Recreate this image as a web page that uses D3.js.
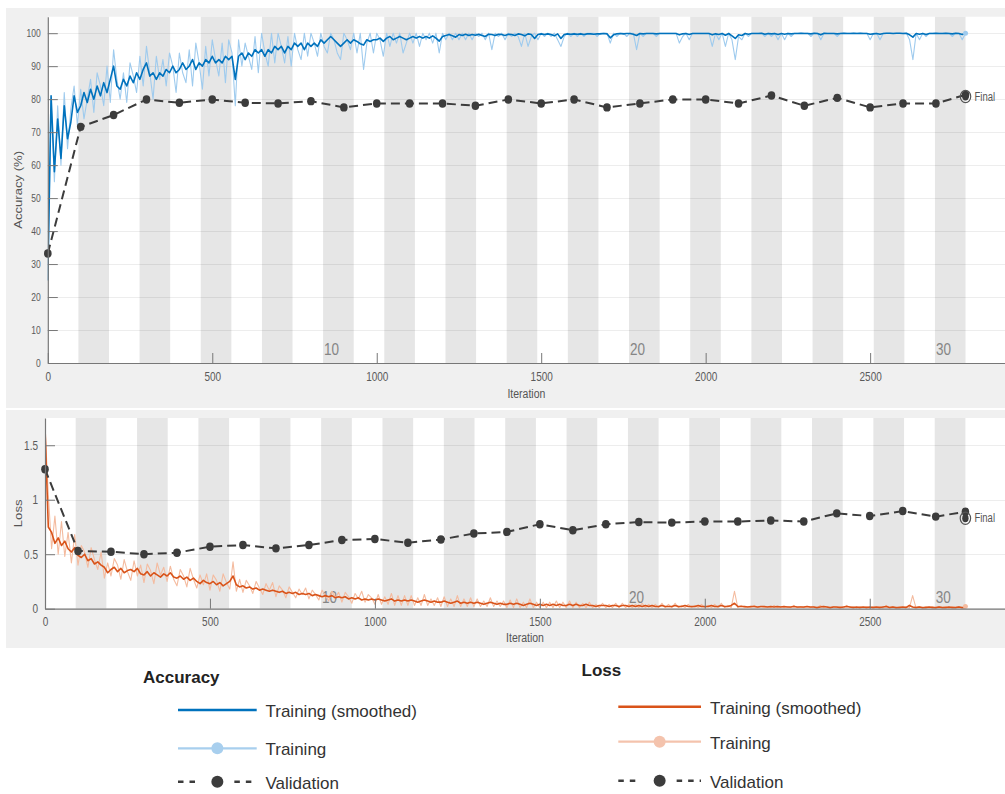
<!DOCTYPE html>
<html>
<head>
<meta charset="utf-8">
<script src="https://cdn.jsdelivr.net/npm/d3@7"></script>
<style>
  html, body { margin: 0; padding: 0; background: #fff; }
  svg { display: block; font-family: "Liberation Sans", Arial, Helvetica, sans-serif; }
</style>
</head>
<body>
<svg id="chart" width="1005" height="794"></svg>
<script>
// ---- training run: 30 epochs, 93 iterations each ----
const numEpochs = 30;
const itersPerEpoch = 93;
const epochLabels = [10, 20, 30];
const trainStep = 10;              // training curves are sampled every 10 iterations (0 ... 2790)

// mini-batch accuracy (%), smoothed
const accSmooth = [
  25, 81, 58, 74, 62, 78, 68, 73, 81, 76,
  78, 82, 79, 83, 80, 84, 81, 85, 82, 86,
  90, 84, 83, 86, 84, 87, 85, 88, 86, 89,
  91, 87, 88, 86, 88, 87, 89, 88, 90, 88,
  89, 91, 89, 90, 92, 89, 91, 90, 92, 91,
  93, 91, 92, 91, 93, 92, 93, 86, 93, 94,
  92, 94, 93, 95, 94, 95, 93, 95, 94, 96,
  95, 96, 94, 96, 95, 97, 96, 97, 95, 97,
  96, 97, 96, 98, 97, 98, 99, 98, 97, 96,
  97, 98, 97, 98, 97.5, 96.8, 96.4, 98, 97.5, 98,
  98, 98.5, 97.5, 98.5, 99, 98, 98.5, 99, 98.5, 98,
  98.5, 99, 98.5, 99, 98.5, 99, 98.5, 99.2, 98.5, 97.6,
  99, 99.3, 99.6, 99.2, 98.8, 99.6, 99.3, 99.7, 99.3, 99.6,
  99.4, 99.7, 99.3, 99, 99.7, 99.6, 99.3, 99.7, 99.6, 99.3,
  99.7, 99.6, 99.3, 99.8, 99.6, 99.2, 99.8, 99.6, 98.4, 99.6,
  99.8, 99.6, 99.8, 99.6, 99.2, 99.8, 98.4, 99.6, 99.8, 99.7,
  99.8, 99.7, 99.8, 99.6, 99.8, 99.8, 99.7, 99.8, 99.8, 99.9,
  99.8, 98.6, 99.5, 99.8, 99.9, 99.8, 99.9, 99.9, 99.7, 99.3,
  99.9, 99.8, 99.9, 99.9, 99.9, 99.8, 99.9, 99.9, 99.9, 99.9,
  99.9, 99.9, 99.5, 99.8, 99.9, 99.6, 99.9, 99.9, 99.9, 99.9,
  99.9, 99.9, 99.5, 99.8, 99.6, 99.9, 99.4, 99.9, 99.2, 98.4,
  99.5, 99.3, 99.9, 99.7, 99.9, 99.9, 99.9, 100, 99.7, 99.9,
  99.8, 99.9, 99.6, 99.9, 99.7, 99.9, 99.8, 99.9, 99.9, 100,
  99.9, 99.9, 99.8, 100, 99.9, 99.5, 100, 99.9, 99.9, 99.9,
  99.8, 99.9, 100, 99.9, 99.9, 100, 99.9, 100, 99.9, 99.9,
  99.7, 99.8, 99.9, 99.7, 99.9, 100, 100, 99.9, 100, 100,
  99.9, 100, 99.5, 98.8, 99.9, 99.7, 99.9, 99.6, 99.9, 99.9,
  100, 99.9, 99.9, 100, 99.9, 99.8, 100, 99.9, 99.6, 100
];

// mini-batch accuracy (%), raw
const accRaw = [
  25, 80, 55, 78, 60, 82, 65, 77, 84, 72,
  83, 74, 80, 86, 76, 88, 84, 78, 90, 79,
  95, 86, 80, 88, 79, 91, 87, 82, 93, 84,
  96, 88, 80, 93, 86, 92, 84, 94, 90, 82,
  94, 88, 85, 95, 84, 97, 91, 83, 96, 87,
  98, 92, 87, 97, 85, 98, 94, 78, 98, 90,
  97, 93, 89, 99, 88, 100, 94, 90, 100, 91,
  100, 96, 91, 99, 90, 100, 95, 92, 100, 93,
  100, 97, 93, 100, 96, 94, 100, 98, 94, 92,
  100, 98, 95, 100, 94, 100, 89, 97, 100, 94,
  100, 98, 93, 100, 96, 100, 97, 100, 94, 97,
  100, 97, 100, 96, 100, 98, 100, 97, 100, 94,
  100, 98, 100, 98, 100, 98, 100, 98, 100, 98,
  100, 99, 100, 98, 100, 95, 100, 99, 100, 98,
  100, 99, 100, 99, 96, 100, 96, 99, 100, 98,
  100, 99, 100, 99, 100, 98, 96, 99, 100, 99,
  100, 99, 100, 99, 100, 100, 100, 99, 100, 100,
  100, 97, 100, 99, 100, 100, 99, 100, 100, 95,
  100, 99, 100, 100, 100, 99, 100, 100, 100, 100,
  100, 100, 97, 99, 100, 98, 100, 100, 100, 100,
  100, 100, 96, 100, 98, 100, 96, 100, 98, 92,
  99, 98, 100, 99, 100, 100, 100, 100, 99, 100,
  99, 100, 98, 100, 98, 100, 99, 100, 100, 100,
  100, 100, 99, 100, 100, 98, 100, 100, 100, 100,
  99, 100, 100, 100, 100, 100, 100, 100, 100, 100,
  98, 100, 100, 98, 100, 100, 100, 100, 100, 100,
  100, 100, 98, 92, 100, 98, 100, 99, 100, 100,
  100, 100, 100, 100, 100, 99, 100, 100, 98, 100
];

// mini-batch loss, smoothed
const lossSmooth = [
  1.67, 0.75, 0.70, 0.60, 0.65, 0.58, 0.62, 0.55, 0.52, 0.56,
  0.49, 0.47, 0.50, 0.44, 0.46, 0.41, 0.43, 0.40, 0.38, 0.33,
  0.36, 0.38, 0.34, 0.37, 0.33, 0.35, 0.36, 0.34, 0.37, 0.32,
  0.31, 0.34, 0.30, 0.33, 0.31, 0.29, 0.32, 0.30, 0.33, 0.29,
  0.28, 0.30, 0.27, 0.29, 0.26, 0.28, 0.25, 0.23, 0.26, 0.24,
  0.23, 0.25, 0.22, 0.24, 0.21, 0.23, 0.25, 0.30, 0.22, 0.20,
  0.21, 0.19, 0.20, 0.18, 0.19, 0.17, 0.18, 0.17, 0.16, 0.17,
  0.16, 0.15, 0.16, 0.14, 0.15, 0.14, 0.15, 0.13, 0.14, 0.13,
  0.14, 0.12, 0.13, 0.12, 0.11, 0.12, 0.11, 0.12, 0.10, 0.11,
  0.10, 0.11, 0.09, 0.10, 0.09, 0.10, 0.08, 0.09, 0.08, 0.09,
  0.08, 0.09, 0.08, 0.07, 0.08, 0.09, 0.07, 0.08, 0.07, 0.08,
  0.07, 0.08, 0.07, 0.06, 0.07, 0.08, 0.07, 0.06, 0.07, 0.06,
  0.06, 0.07, 0.06, 0.05, 0.06, 0.07, 0.05, 0.06, 0.05, 0.06,
  0.05, 0.06, 0.05, 0.04, 0.05, 0.06, 0.05, 0.04, 0.05, 0.04,
  0.04, 0.05, 0.04, 0.05, 0.04, 0.03, 0.04, 0.05, 0.04, 0.03,
  0.04, 0.03, 0.04, 0.03, 0.04, 0.03, 0.04, 0.03, 0.03, 0.04,
  0.03, 0.04, 0.03, 0.03, 0.04, 0.03, 0.03, 0.02, 0.03, 0.03,
  0.03, 0.02, 0.03, 0.03, 0.02, 0.03, 0.03, 0.02, 0.03, 0.02,
  0.03, 0.02, 0.03, 0.02, 0.03, 0.02, 0.02, 0.03, 0.02, 0.02,
  0.02, 0.03, 0.02, 0.02, 0.03, 0.02, 0.02, 0.02, 0.03, 0.02,
  0.02, 0.02, 0.03, 0.02, 0.02, 0.03, 0.02, 0.02, 0.03, 0.05,
  0.02, 0.02, 0.02, 0.015, 0.02, 0.02, 0.015, 0.02, 0.02, 0.015,
  0.02, 0.015, 0.02, 0.015, 0.02, 0.015, 0.015, 0.02, 0.015, 0.015,
  0.015, 0.02, 0.015, 0.015, 0.01, 0.015, 0.02, 0.015, 0.01, 0.015,
  0.015, 0.01, 0.015, 0.02, 0.015, 0.01, 0.015, 0.01, 0.015, 0.01,
  0.015, 0.01, 0.015, 0.01, 0.015, 0.02, 0.01, 0.015, 0.01, 0.01,
  0.015, 0.01, 0.03, 0.015, 0.01, 0.015, 0.01, 0.01, 0.015, 0.01,
  0.01, 0.015, 0.01, 0.01, 0.015, 0.01, 0.01, 0.015, 0.01, 0.01
];

// mini-batch loss, raw
const lossRaw = [
  1.67, 1.05, 0.55, 0.85, 0.50, 0.80, 0.48, 0.70, 0.42, 0.68,
  0.40, 0.58, 0.52, 0.38, 0.56, 0.45, 0.36, 0.52, 0.28, 0.42,
  0.30, 0.46, 0.40, 0.27, 0.45, 0.34, 0.26, 0.44, 0.30, 0.40,
  0.24, 0.41, 0.35, 0.23, 0.42, 0.31, 0.38, 0.25, 0.39, 0.27,
  0.21, 0.36, 0.30, 0.20, 0.37, 0.27, 0.19, 0.31, 0.22, 0.32,
  0.17, 0.31, 0.26, 0.16, 0.32, 0.24, 0.18, 0.43, 0.16, 0.27,
  0.15, 0.26, 0.21, 0.14, 0.25, 0.19, 0.13, 0.23, 0.17, 0.24,
  0.11, 0.21, 0.17, 0.10, 0.20, 0.15, 0.10, 0.18, 0.13, 0.19,
  0.09, 0.17, 0.13, 0.08, 0.17, 0.12, 0.07, 0.16, 0.10, 0.15,
  0.06, 0.15, 0.11, 0.05, 0.14, 0.09, 0.16, 0.06, 0.13, 0.10,
  0.04, 0.13, 0.04, 0.11, 0.04, 0.14, 0.03, 0.12, 0.03, 0.12,
  0.03, 0.12, 0.03, 0.10, 0.03, 0.13, 0.03, 0.09, 0.03, 0.10,
  0.02, 0.11, 0.02, 0.09, 0.02, 0.12, 0.02, 0.09, 0.02, 0.10,
  0.02, 0.09, 0.02, 0.07, 0.02, 0.10, 0.02, 0.07, 0.02, 0.07,
  0.01, 0.08, 0.01, 0.09, 0.01, 0.06, 0.01, 0.09, 0.01, 0.06,
  0.01, 0.06, 0.01, 0.06, 0.01, 0.07, 0.01, 0.06, 0.01, 0.07,
  0.01, 0.06, 0.01, 0.05, 0.01, 0.06, 0.01, 0.04, 0.01, 0.05,
  0.01, 0.04, 0.01, 0.05, 0.01, 0.05, 0.01, 0.04, 0.01, 0.04,
  0.01, 0.05, 0.01, 0.04, 0.01, 0.04, 0.01, 0.05, 0.01, 0.04,
  0.01, 0.05, 0.01, 0.03, 0.01, 0.04, 0.01, 0.03, 0.01, 0.04,
  0.01, 0.03, 0.01, 0.04, 0.01, 0.05, 0.01, 0.03, 0.01, 0.16,
  0.01, 0.03, 0.01, 0.02, 0.01, 0.03, 0.01, 0.02, 0.01, 0.02,
  0.01, 0.03, 0.01, 0.02, 0.01, 0.02, 0.01, 0.03, 0.01, 0.02,
  0.01, 0.02, 0.01, 0.02, 0.005, 0.03, 0.01, 0.02, 0.005, 0.02,
  0.01, 0.02, 0.005, 0.03, 0.01, 0.02, 0.005, 0.02, 0.01, 0.02,
  0.005, 0.02, 0.01, 0.02, 0.005, 0.03, 0.01, 0.02, 0.005, 0.02,
  0.01, 0.02, 0.005, 0.12, 0.01, 0.02, 0.005, 0.02, 0.01, 0.02,
  0.005, 0.02, 0.01, 0.02, 0.005, 0.02, 0.01, 0.02, 0.005, 0.02
];

// validation checkpoints
const valIter = [0, 100, 200, 300, 400, 500, 600, 700, 800, 900, 1000, 1100, 1200, 1300,
  1400, 1500, 1600, 1700, 1800, 1900, 2000, 2100, 2200, 2300, 2400, 2500, 2600, 2700, 2790];
const accVal = [33.2, 71.6, 75.2, 79.9, 78.9, 79.9, 78.9, 78.7, 79.4, 77.5, 78.7, 78.7, 78.7, 78.0,
  79.9, 78.7, 79.9, 77.5, 78.7, 79.9, 79.9, 78.7, 81.1, 78.0, 80.4, 77.5, 78.7, 78.7, 81.3];
const lossVal = [1.28, 0.53, 0.523, 0.50, 0.514, 0.569, 0.584, 0.554, 0.584, 0.63, 0.64, 0.605, 0.635, 0.69,
  0.705, 0.775, 0.72, 0.775, 0.795, 0.79, 0.80, 0.80, 0.81, 0.80, 0.875, 0.85, 0.896, 0.845, 0.89];

// final (post-training) validation result
const finalIter = 2790;
const accFinal = 80.8;
const lossFinal = 0.83;

// axis ticks
const xTicks = [0, 500, 1000, 1500, 2000, 2500];
const accTicks = [0, 10, 20, 30, 40, 50, 60, 70, 80, 90, 100];
const lossTicks = [0, 0.5, 1, 1.5];

// legend entries
const legendItems = ["Training (smoothed)", "Training", "Validation"];

// ------------------------------------------------------------------
const W = 1005;
const xMax = 2910;
const SY = 1.25;                        // plot text is drawn a little tall
const BLUE = "#0072bd", BLUE_L = "#9fcbee";
const ORANGE = "#d95319", ORANGE_L = "#f4bb9f";
const VAL = "#3c3c3c";

const svg = d3.select("#chart");

function tallText(g, x, y, txt, opts = {}) {
  return g.append("text")
    .attr("transform", `translate(${x},${y}) scale(1,${SY})` + (opts.rotate ? " rotate(-90)" : ""))
    .attr("text-anchor", opts.anchor || "start")
    .attr("dy", "0.35em")
    .attr("font-size", opts.size || 10)
    .attr("fill", opts.fill || "#555")
    .text(txt);
}

function stretchTicks(sel) {
  sel.selectAll(".tick text").each(function () {
    const y = +this.getAttribute("y") || 0;
    this.setAttribute("y", y / SY);
    this.setAttribute("transform", `scale(1,${SY})`);
  });
}

function drawPanel(o) {
  const g = svg.append("g");
  g.append("rect").attr("x", 6).attr("y", o.panelTop)
    .attr("width", W - 6).attr("height", o.panelBottom - o.panelTop).attr("fill", "#f0f0f0");

  const x = d3.scaleLinear().domain([0, xMax]).range([o.left, W]);
  const y = d3.scaleLinear().domain(o.yDomain).range([o.bottom, o.top]);

  g.append("rect").attr("x", o.left).attr("y", o.top)
    .attr("width", W - o.left).attr("height", o.bottom - o.top).attr("fill", "#fff");

  // alternating epoch bands
  const evenEpochs = d3.range(1, numEpochs + 1).filter(e => e % 2 === 0);
  g.append("g").selectAll("rect").data(evenEpochs).join("rect")
    .attr("x", e => x((e - 1) * itersPerEpoch))
    .attr("width", e => x(e * itersPerEpoch) - x((e - 1) * itersPerEpoch))
    .attr("y", o.top).attr("height", o.bottom - o.top)
    .attr("fill", "#e6e6e6");

  // horizontal grid
  g.append("g").selectAll("line").data(o.yTicks.filter(v => v > 0)).join("line")
    .attr("x1", o.left).attr("x2", W)
    .attr("y1", d => Math.round(y(d)) + 0.5).attr("y2", d => Math.round(y(d)) + 0.5)
    .attr("stroke", "rgba(0,0,0,0.07)").attr("stroke-width", 1);

  // epoch numbers
  const lg = g.append("g");
  epochLabels.forEach(e => {
    tallText(lg, x((e - 1) * itersPerEpoch) + 1, o.bottom - o.epochLabelLift, String(e),
      { size: 13.5, fill: "#858585" });
  });

  const clip = "clip-" + o.id;
  svg.append("clipPath").attr("id", clip).append("rect")
    .attr("x", o.left).attr("y", o.top - 2).attr("width", W - o.left).attr("height", o.bottom - o.top + 2);
  const plot = g.append("g").attr("clip-path", `url(#${clip})`);

  const line = d3.line().x((d, i) => x(i * trainStep)).y(d => y(d));
  plot.append("path").datum(o.raw).attr("d", line)
    .attr("fill", "none").attr("stroke", o.rawColor).attr("stroke-width", 1.1).attr("stroke-linejoin", "round");
  plot.append("path").datum(o.smooth).attr("d", line)
    .attr("fill", "none").attr("stroke", o.smoothColor).attr("stroke-width", 1.6).attr("stroke-linejoin", "round");
  // end point of the raw training curve
  plot.append("circle").attr("cx", x((o.raw.length - 1) * trainStep)).attr("cy", y(o.raw[o.raw.length - 1]))
    .attr("r", 2.5).attr("fill", o.rawColor);

  // validation
  const vline = d3.line().x((d, i) => x(valIter[i])).y(d => y(d));
  g.append("path").datum(o.val).attr("d", vline)
    .attr("fill", "none").attr("stroke", VAL).attr("stroke-width", 2).attr("stroke-dasharray", "9,5");
  g.append("g").selectAll("ellipse").data(o.val).join("ellipse")
    .attr("cx", (d, i) => x(valIter[i])).attr("cy", d => y(d))
    .attr("rx", 3.8).attr("ry", 4.2).attr("fill", VAL);

  // final validation marker
  g.append("ellipse").attr("cx", x(finalIter)).attr("cy", y(o.final))
    .attr("rx", 5.2).attr("ry", 6.2).attr("fill", "none").attr("stroke", "#555").attr("stroke-width", 1.2);
  g.append("ellipse").attr("cx", x(finalIter)).attr("cy", y(o.final))
    .attr("rx", 3.2).attr("ry", 4).attr("fill", VAL);
  tallText(g, x(finalIter) + 9, y(o.final), "Final", { size: 9.5, fill: "#555" });

  // axes
  const xa = g.append("g").attr("transform", `translate(0,${o.bottom})`)
    .call(d3.axisBottom(x).tickValues(xTicks).tickFormat(d3.format("d"))
      .tickSizeInner(-10).tickSizeOuter(0).tickPadding(o.xPad));
  xa.selectAll("text").attr("font-size", 10).attr("fill", "#5a5a5a").attr("font-family", null);
  xa.select(".domain").attr("stroke", "#777").attr("stroke-width", 1.2);
  xa.selectAll(".tick line").attr("stroke", "#777");
  stretchTicks(xa);

  const ya = g.append("g").attr("transform", `translate(${o.left},0)`)
    .call(d3.axisLeft(y).tickValues(o.yTicks).tickFormat(o.fmt)
      .tickSizeInner(-10).tickSizeOuter(0).tickPadding(7));
  ya.selectAll("text").attr("font-size", o.yFont).attr("fill", "#5a5a5a").attr("font-family", null);
  ya.select(".domain").attr("stroke", "#777").attr("stroke-width", 1.2);
  ya.selectAll(".tick line").attr("stroke", "#777");
  stretchTicks(ya);

  // axis titles
  tallText(g, (o.left + W) / 2, o.xTitleY, "Iteration", { size: 10.5, anchor: "middle", fill: "#555" });
  tallText(g, 18, (o.top + o.bottom) / 2, o.yTitle, { size: 10.5, anchor: "middle", fill: "#555", rotate: true });
}

drawPanel({
  id: "acc", panelTop: 8, panelBottom: 408,
  left: 47.8, top: 16.7, bottom: 363,
  yDomain: [0, 105], yTicks: accTicks, fmt: d3.format("d"), yFont: 8.5,
  raw: accRaw, smooth: accSmooth, rawColor: BLUE_L, smoothColor: BLUE,
  val: accVal, final: accFinal,
  yTitle: "Accuracy (%)", xTitleY: 393, xPad: 9, epochLabelLift: 14
});

drawPanel({
  id: "loss", panelTop: 410, panelBottom: 648,
  left: 45, top: 418, bottom: 608.7,
  yDomain: [0, 1.75], yTicks: lossTicks, fmt: d => String(d), yFont: 10,
  raw: lossRaw, smooth: lossSmooth, rawColor: ORANGE_L, smoothColor: ORANGE,
  val: lossVal, final: lossFinal,
  yTitle: "Loss", xTitleY: 637, xPad: 8.5, epochLabelLift: 12
});

// ---- legends ----
function drawLegend(o) {
  const g = svg.append("g");
  g.append("text").attr("x", o.titleX).attr("y", o.titleY).attr("dy", "0.35em")
    .attr("font-size", 17).attr("font-weight", "bold").attr("fill", "#222").text(o.title);
  const x1 = o.lineX0, x2 = o.lineX1, xm = (x1 + x2) / 2;
  legendItems.forEach((label, i) => {
    const yy = o.rows[i];
    if (i === 0) {
      g.append("line").attr("x1", x1).attr("x2", x2).attr("y1", yy).attr("y2", yy)
        .attr("stroke", o.color).attr("stroke-width", 2.6);
    } else if (i === 1) {
      g.append("line").attr("x1", x1).attr("x2", x2).attr("y1", yy).attr("y2", yy)
        .attr("stroke", o.light).attr("stroke-width", 2.2);
      g.append("circle").attr("cx", xm).attr("cy", yy).attr("r", 6).attr("fill", o.light);
    } else {
      [[x1, xm - 19], [xm + 17, x2]].forEach(([a, b]) => {
        g.append("line").attr("x1", a).attr("x2", b).attr("y1", yy).attr("y2", yy)
          .attr("stroke", VAL).attr("stroke-width", 2.6).attr("stroke-dasharray", "5.5,6");
      });
      g.append("circle").attr("cx", xm).attr("cy", yy).attr("r", 6).attr("fill", VAL);
    }
    g.append("text").attr("x", o.textX).attr("y", yy + 1).attr("dy", "0.35em")
      .attr("font-size", 17).attr("fill", "#333").text(label);
  });
}

drawLegend({
  title: "Accuracy", titleX: 143, titleY: 677,
  lineX0: 178, lineX1: 256.7, textX: 265.5,
  rows: [710, 748.3, 781.7], color: BLUE, light: "#a8cfee"
});
drawLegend({
  title: "Loss", titleX: 581.5, titleY: 670,
  lineX0: 618.3, lineX1: 701, textX: 710,
  rows: [706.7, 741.7, 780.7], color: ORANGE, light: "#f4c3ad"
});
</script>
</body>
</html>
